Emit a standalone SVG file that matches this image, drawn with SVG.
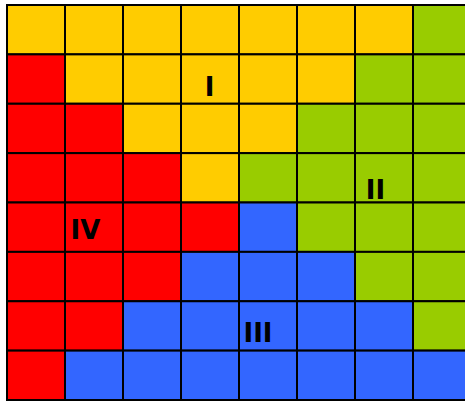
<svg xmlns="http://www.w3.org/2000/svg" width="465" height="401" viewBox="0 0 465 401">
<style>
rect{stroke:#000;stroke-width:2}
.y{fill:#FFCC00}.r{fill:#FF0000}.g{fill:#99CC00}.b{fill:#3366FF}
text{font-family:"DejaVu Sans",sans-serif;font-weight:bold;font-size:26px;text-anchor:middle;fill:#000}
</style>
<rect width="465" height="401" fill="#fff" style="stroke:none"/>
<g id="grid">
<g id="row0">
<rect class="y" x="7" y="5" width="58" height="49.375"/><rect class="y" x="65" y="5" width="58" height="49.375"/><rect class="y" x="123" y="5" width="58" height="49.375"/><rect class="y" x="181" y="5" width="58" height="49.375"/><rect class="y" x="239" y="5" width="58" height="49.375"/><rect class="y" x="297" y="5" width="58" height="49.375"/><rect class="y" x="355" y="5" width="58" height="49.375"/><rect class="g" x="413" y="5" width="58" height="49.375"/>
</g>
<g id="row1">
<rect class="r" x="7" y="54.375" width="58" height="49.375"/><rect class="y" x="65" y="54.375" width="58" height="49.375"/><rect class="y" x="123" y="54.375" width="58" height="49.375"/><rect class="y" x="181" y="54.375" width="58" height="49.375"/><rect class="y" x="239" y="54.375" width="58" height="49.375"/><rect class="y" x="297" y="54.375" width="58" height="49.375"/><rect class="g" x="355" y="54.375" width="58" height="49.375"/><rect class="g" x="413" y="54.375" width="58" height="49.375"/>
</g>
<g id="row2">
<rect class="r" x="7" y="103.75" width="58" height="49.375"/><rect class="r" x="65" y="103.75" width="58" height="49.375"/><rect class="y" x="123" y="103.75" width="58" height="49.375"/><rect class="y" x="181" y="103.75" width="58" height="49.375"/><rect class="y" x="239" y="103.75" width="58" height="49.375"/><rect class="g" x="297" y="103.75" width="58" height="49.375"/><rect class="g" x="355" y="103.75" width="58" height="49.375"/><rect class="g" x="413" y="103.75" width="58" height="49.375"/>
</g>
<g id="row3">
<rect class="r" x="7" y="153.125" width="58" height="49.375"/><rect class="r" x="65" y="153.125" width="58" height="49.375"/><rect class="r" x="123" y="153.125" width="58" height="49.375"/><rect class="y" x="181" y="153.125" width="58" height="49.375"/><rect class="g" x="239" y="153.125" width="58" height="49.375"/><rect class="g" x="297" y="153.125" width="58" height="49.375"/><rect class="g" x="355" y="153.125" width="58" height="49.375"/><rect class="g" x="413" y="153.125" width="58" height="49.375"/>
</g>
<g id="row4">
<rect class="r" x="7" y="202.5" width="58" height="49.375"/><rect class="r" x="65" y="202.5" width="58" height="49.375"/><rect class="r" x="123" y="202.5" width="58" height="49.375"/><rect class="r" x="181" y="202.5" width="58" height="49.375"/><rect class="b" x="239" y="202.5" width="58" height="49.375"/><rect class="g" x="297" y="202.5" width="58" height="49.375"/><rect class="g" x="355" y="202.5" width="58" height="49.375"/><rect class="g" x="413" y="202.5" width="58" height="49.375"/>
</g>
<g id="row5">
<rect class="r" x="7" y="251.875" width="58" height="49.375"/><rect class="r" x="65" y="251.875" width="58" height="49.375"/><rect class="r" x="123" y="251.875" width="58" height="49.375"/><rect class="b" x="181" y="251.875" width="58" height="49.375"/><rect class="b" x="239" y="251.875" width="58" height="49.375"/><rect class="b" x="297" y="251.875" width="58" height="49.375"/><rect class="g" x="355" y="251.875" width="58" height="49.375"/><rect class="g" x="413" y="251.875" width="58" height="49.375"/>
</g>
<g id="row6">
<rect class="r" x="7" y="301.25" width="58" height="49.375"/><rect class="r" x="65" y="301.25" width="58" height="49.375"/><rect class="b" x="123" y="301.25" width="58" height="49.375"/><rect class="b" x="181" y="301.25" width="58" height="49.375"/><rect class="b" x="239" y="301.25" width="58" height="49.375"/><rect class="b" x="297" y="301.25" width="58" height="49.375"/><rect class="b" x="355" y="301.25" width="58" height="49.375"/><rect class="g" x="413" y="301.25" width="58" height="49.375"/>
</g>
<g id="row7">
<rect class="r" x="7" y="350.625" width="58" height="49.375"/><rect class="b" x="65" y="350.625" width="58" height="49.375"/><rect class="b" x="123" y="350.625" width="58" height="49.375"/><rect class="b" x="181" y="350.625" width="58" height="49.375"/><rect class="b" x="239" y="350.625" width="58" height="49.375"/><rect class="b" x="297" y="350.625" width="58" height="49.375"/><rect class="b" x="355" y="350.625" width="58" height="49.375"/><rect class="b" x="413" y="350.625" width="58" height="49.375"/>
</g>
</g>
<g id="labels">
<text x="209.5" y="95.5">I</text>
<text x="375.5" y="199">II</text>
<text x="258" y="342">III</text>
<text x="85.5" y="238.5">IV</text>
</g>
</svg>
